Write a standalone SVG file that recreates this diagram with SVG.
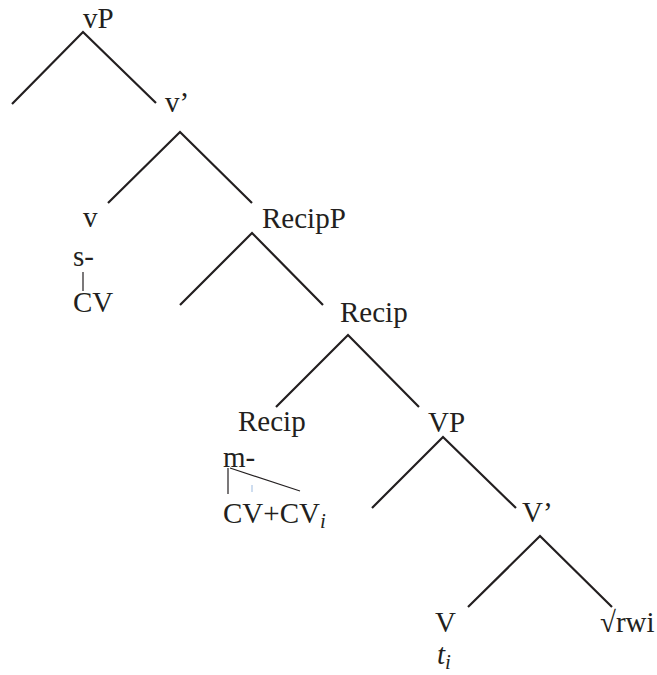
<svg xmlns="http://www.w3.org/2000/svg" width="657" height="675" viewBox="0 0 657 675">
<style>
.t{font-family:'Liberation Serif','Times New Roman',serif;font-size:29px;fill:#231f20}
.e{stroke:#231f20;stroke-width:2.2;fill:none;stroke-linecap:butt}
.thin{stroke:#231f20;stroke-width:1.2;fill:none}
</style>
<rect width="657" height="675" fill="#fff"/>
<g id="connectors">
<path class="e" d="M12,104 L83,32 L156,103"/>
<path class="e" d="M108,203 L180,132 L252,203"/>
<path class="e" d="M180,305 L252,233 L323,305"/>
<path class="e" d="M276,407 L348,335 L419,407"/>
<path class="e" d="M372,508 L443,437 L516,508"/>
<path class="e" d="M468,607 L540,536 L612,607"/>
<path class="thin" d="M83,272 L83,291"/>
<path class="thin" d="M228,468 L228,494"/>
<path class="thin" d="M230,468 L300,491"/>
<path d="M252,485 L252,492" stroke="#9dbbe0" stroke-width="1"/>
</g>
<g id="vP"><text class="t" x="83" y="28">vP</text></g>
<g id="vbar"><text class="t" x="165" y="112">v’</text></g>
<g id="v"><text class="t" x="83" y="227">v</text></g>
<g id="s"><text class="t" x="73" y="266">s-</text></g>
<g id="CV1"><text class="t" x="73" y="312">CV</text></g>
<g id="RecipP"><text class="t" x="262" y="228">RecipP</text></g>
<g id="RecipBar"><text class="t" x="340" y="322">Recip</text></g>
<g id="Recip"><text class="t" x="238" y="431">Recip</text></g>
<g id="m"><text class="t" x="223" y="467">m-</text></g>
<g id="CV2"><text class="t" x="223" y="523">CV+CV<tspan font-style="italic" font-size="21" dy="5">i</tspan></text></g>
<g id="VP"><text class="t" x="428" y="432">VP</text></g>
<g id="Vbar"><text class="t" x="522" y="522">V’</text></g>
<g id="V"><text class="t" x="435" y="632">V</text></g>
<g id="root"><text class="t" x="600" y="632">√rwi</text></g>
<g id="trace"><text class="t" x="437" y="664" font-style="italic">t<tspan font-size="21" dy="5">i</tspan></text></g>
</svg>
